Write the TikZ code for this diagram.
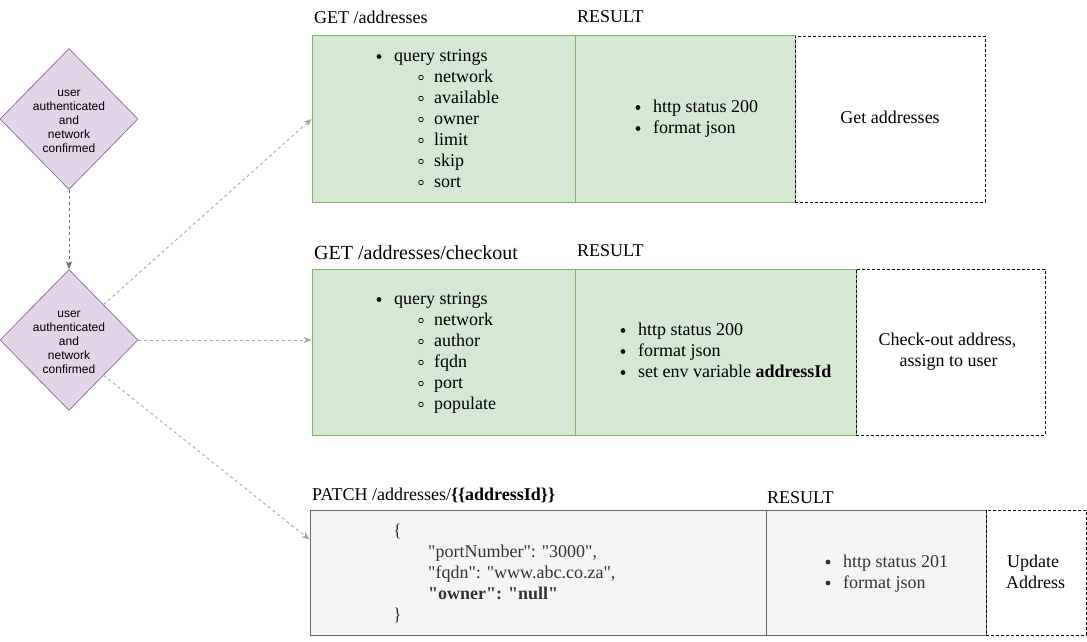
\documentclass[tikz,border=0pt]{standalone}
\usepackage{fontspec}
\setmainfont{Liberation Serif}
\newfontfamily\diafont{Liberation Sans}
\newfontfamily\jsonfont{Liberation Serif}
\usetikzlibrary{shapes.geometric,arrows.meta,calc}
\definecolor{dfill}{HTML}{E1D5E7}
\definecolor{dline}{HTML}{9673A6}
\definecolor{gfill}{HTML}{D5E8D4}
\definecolor{gline}{HTML}{82B366}
\definecolor{pfill}{HTML}{F5F5F5}
\definecolor{pline}{HTML}{666666}
\definecolor{ptext}{HTML}{333333}
\definecolor{arrlight}{HTML}{A6A6A6}
\definecolor{arrdark}{HTML}{6E6E6E}
\begin{document}
\begin{tikzpicture}[x=1pt,y=-1pt,
  dia/.style={diamond,draw=dline,fill=dfill,line width=0.8pt,minimum width=138pt,minimum height=141pt,inner sep=0pt},
  diatext/.style={font=\diafont\fontsize{12}{14}\selectfont,align=center,inner sep=0pt},
  greenbox/.style={draw=gline,fill=gfill,line width=1pt,inner sep=0pt},
  graybox/.style={draw=pline,fill=pfill,line width=1pt,inner sep=0pt},
  dashbox/.style={draw=black,line width=0.9pt,dash pattern=on 3pt off 2pt,inner sep=0pt},
  txt/.style={inner sep=0pt,font=\fontsize{18}{21}\selectfont,anchor=base west},
  json/.style={txt,font=\jsonfont\fontsize{18}{21}\selectfont,text=ptext},
  conn/.style={draw=arrlight,line width=0.9pt,dash pattern=on 3pt off 3pt,-{Stealth[length=8pt,width=6.5pt,inset=2.5pt]}},
  sub/.style={draw,line width=0.7pt}
]
\useasboundingbox (0,0) rectangle (1087,642);

% diamonds
\node[dia] (d1) at (69,119) {};
\node[diatext] (d1t) at (69,121) {user\\authenticated\\and\\network\\confirmed};
\node[dia] (d2) at (69,340) {};
\node[diatext] (d2t) at (69,342) {user\\authenticated\\and\\network\\confirmed};

% box 1
\node[greenbox,minimum width=263pt,minimum height=166pt] (q1) at (443.5,119) {};
\node[greenbox,minimum width=220pt,minimum height=166pt] (r1) at (685,119) {};
\node[dashbox,minimum width=190pt,minimum height=166pt] (g1) at (890,119) {};

% box 2
\node[greenbox,minimum width=263pt,minimum height=166pt] (q2) at (443.5,352) {};
\node[greenbox,minimum width=281pt,minimum height=166pt] (r2) at (715.5,352) {};
\node[dashbox,minimum width=189pt,minimum height=166pt] (g2) at (950.5,352) {};

% box 3
\node[graybox,minimum width=456pt,minimum height=125pt] (p3) at (538,572.5) {};
\node[graybox,minimum width=220pt,minimum height=125pt] (r3) at (876,572.5) {};
\node[dashbox,minimum width=100pt,minimum height=125pt] (g3) at (1036,572.5) {};

% headings
\node[txt] (h1) at (314,24) {GET /addresses};
\node[txt] (h1r) at (577,23) {RESULT};
\node[txt,font=\fontsize{20}{24}\selectfont] (h2) at (314,259.5) {GET /addresses/checkout};
\node[txt] (h2r) at (577,256) {RESULT};
\node[txt] (h3) at (312,500) {PATCH /addresses/\textbf{\{\{addressId\}\}}};
\node[txt] (h3r) at (767,503) {RESULT};

% box 1 content
\fill (379,56.5) circle (2.4pt);
\node[txt] (q1a) at (394,61.5) {query strings};
\foreach \t [count=\i] in {network,available,owner,limit,skip,sort}{
  \draw[sub] (421,56.5+21*\i) circle (2.3pt);
  \node[txt] (q1s\i) at (434,61.5+21*\i) {\t};
}
\foreach \t [count=\i] in {http status 200,format json}{
  \fill (638,86.5+21*\i) circle (2.4pt);
  \node[txt] (r1s\i) at (653,91.5+21*\i) {\t};
}
\node[txt,anchor=base] (g1t) at (890,123.5) {Get addresses};

% box 2 content
\fill (379,299.5) circle (2.4pt);
\node[txt] (q2a) at (394,304.5) {query strings};
\foreach \t [count=\i] in {network,author,fqdn,port,populate}{
  \draw[sub] (421,299.5+21*\i) circle (2.3pt);
  \node[txt] (q2s\i) at (434,304.5+21*\i) {\t};
}
\foreach \t [count=\i] in {http status 200,format json,set env variable \textbf{addressId}}{
  \fill (623,309.5+21*\i) circle (2.4pt);
  \node[txt] (r2s\i) at (638,314.5+21*\i) {\t};
}
\node[txt,anchor=base] (g2a) at (947.5,345.5) {Check-out address,};
\node[txt,anchor=base] (g2b) at (948.5,366.5) {assign to user};

% box 3 content
\node[json] (j1) at (393,536.5) {\{};
\node[json] (j2) at (428,557.5) {"portNumber": "3000",};
\node[json] (j3) at (428,578.5) {"fqdn": "www.abc.co.za",};
\node[json] (j4) at (428,599.5) {\textbf{"owner": "null"}};
\node[json] (j5) at (393,620.5) {\}};
\foreach \t [count=\i] in {http status 201,format json}{
  \fill[ptext] (828,541+21*\i) circle (2.4pt);
  \node[txt,text=ptext] (r3s\i) at (843,546+21*\i) {\t};
}
\node[txt] (g3a) at (1007,567) {Update};
\node[txt] (g3b) at (1006,588) {Address};

% connectors
\draw[conn,draw=arrdark] (d1.south) -- (d2.north);
\draw[conn] (d2.north east) -- (q1.west);
\draw[conn] (d2.east) -- (d2.east -| q2.west);
\draw[conn] (d2.south east) -- ($(p3.north west)+(0,30)$);
\end{tikzpicture}
\end{document}
